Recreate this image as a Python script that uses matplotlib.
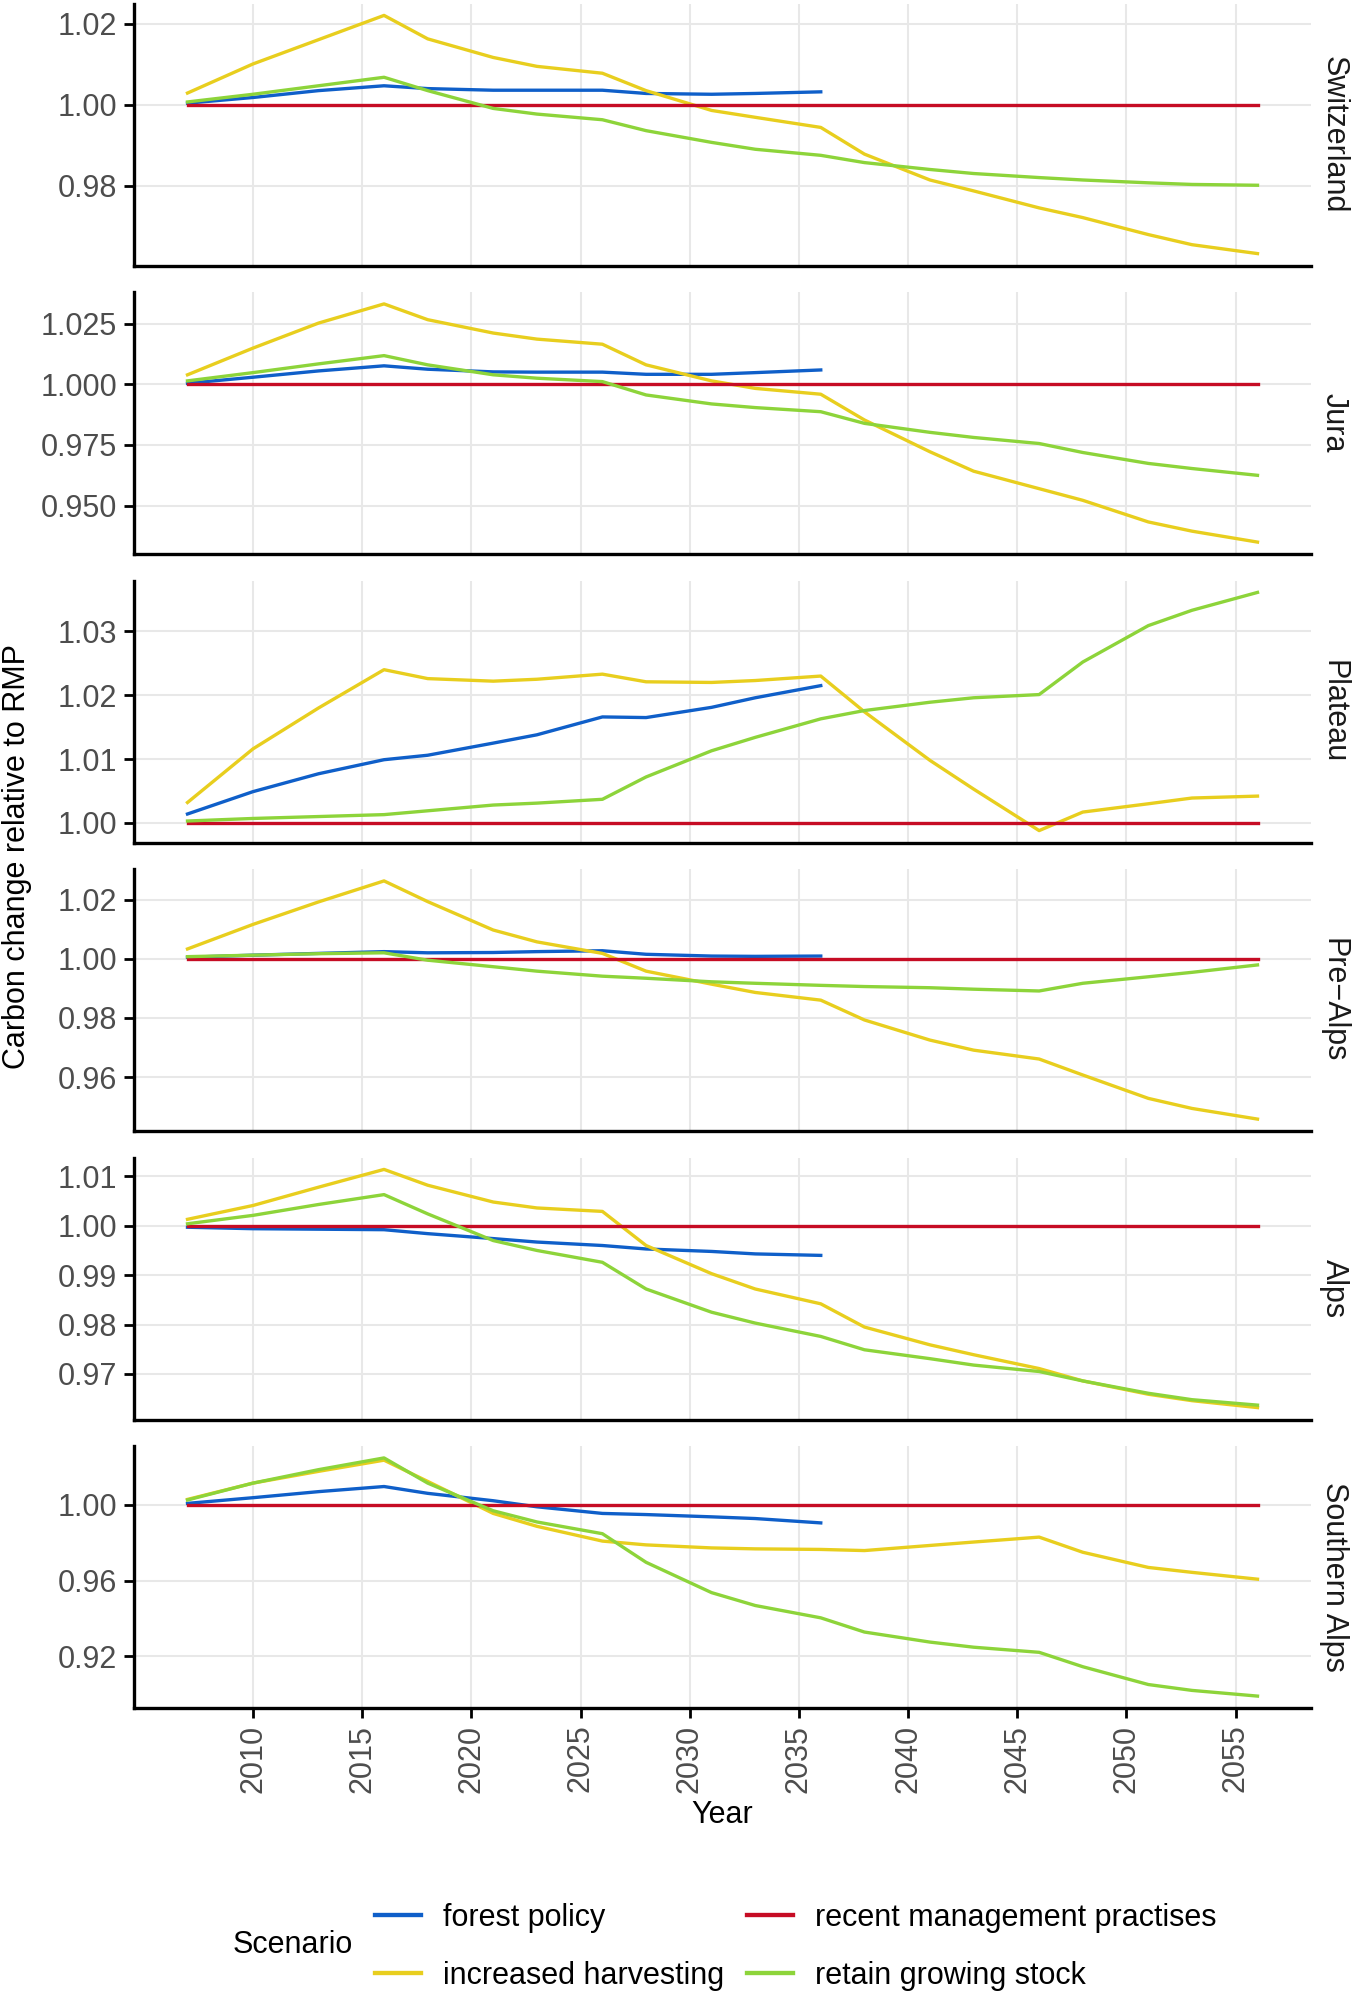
import matplotlib
matplotlib.use("Agg")
import matplotlib.pyplot as plt
from matplotlib.lines import Line2D

plt.rcParams['font.family'] = ['Liberation Sans', 'DejaVu Sans']

# simulation years (sampled off the chart), forest policy runs only to 2036
years = [2007, 2010, 2013, 2016, 2018, 2021, 2023, 2026, 2028, 2031,
         2033, 2036, 2038, 2041, 2043, 2046, 2048, 2051, 2053, 2056]
policy_years = years[:12]

regions = ["Switzerland", "Jura", "Plateau", "Pre\u2212Alps", "Alps", "Southern Alps"]

forest_policy = {
    "Switzerland": [1.0004, 1.0018, 1.0035, 1.0047, 1.0040, 1.0036, 1.0036, 1.0036, 1.0028, 1.0026, 1.0028, 1.0032],
    "Jura": [1.0004, 1.0029, 1.0055, 1.0076, 1.0062, 1.0051, 1.0050, 1.0050, 1.0041, 1.0041, 1.0048, 1.0059],
    "Plateau": [1.0014, 1.0049, 1.0077, 1.0099, 1.0106, 1.0125, 1.0138, 1.0166, 1.0165, 1.0181, 1.0196, 1.0215],
    "Pre\u2212Alps": [1.0005, 1.0012, 1.0018, 1.0024, 1.0020, 1.0021, 1.0024, 1.0027, 1.0015, 1.0009, 1.0008, 1.0009],
    "Alps": [0.9997, 0.9994, 0.9993, 0.9992, 0.9984, 0.9974, 0.9967, 0.9960, 0.9953, 0.9948, 0.9943, 0.9940],
    "Southern Alps": [1.0007, 1.0037, 1.0069, 1.0096, 1.0060, 1.0021, 0.9989, 0.9954, 0.9948, 0.9936, 0.9927, 0.9904],
}

increased_harvesting = {
    "Switzerland": [1.0029, 1.0101, 1.0161, 1.0221, 1.0163, 1.0117, 1.0095, 1.0078, 1.0035, 0.9986,
                    0.9969, 0.9944, 0.9878, 0.9814, 0.9787, 0.9745, 0.9721, 0.9679, 0.9654, 0.9632],
    "Jura": [1.0039, 1.0149, 1.0252, 1.0331, 1.0266, 1.0211, 1.0186, 1.0165, 1.0080, 1.0014,
             0.9983, 0.9959, 0.9853, 0.9722, 0.9642, 0.9570, 0.9522, 0.9433, 0.9395, 0.9350],
    "Plateau": [1.0032, 1.0116, 1.0180, 1.0240, 1.0226, 1.0222, 1.0225, 1.0233, 1.0221, 1.0220,
                1.0223, 1.0230, 1.0174, 1.0098, 1.0053, 0.9988, 1.0017, 1.0030, 1.0039, 1.0042],
    "Pre\u2212Alps": [1.0033, 1.0116, 1.0192, 1.0263, 1.0193, 1.0097, 1.0057, 1.0018, 0.9958, 0.9914,
                 0.9886, 0.9860, 0.9793, 0.9725, 0.9691, 0.9661, 0.9607, 0.9528, 0.9494, 0.9458],
    "Alps": [1.0013, 1.0041, 1.0078, 1.0114, 1.0082, 1.0048, 1.0036, 1.0029, 0.9960, 0.9903,
             0.9872, 0.9842, 0.9795, 0.9759, 0.9739, 0.9711, 0.9686, 0.9659, 0.9646, 0.9632],
    "Southern Alps": [1.0028, 1.0114, 1.0176, 1.0235, 1.0123, 0.9954, 0.9886, 0.9808, 0.9788, 0.9772,
                      0.9767, 0.9764, 0.9758, 0.9785, 0.9803, 0.9829, 0.9749, 0.9669, 0.9643, 0.9607],
}

recent_management = [1.0] * len(years)  # the reference scenario (ratio = 1)

retain_stock = {
    "Switzerland": [1.0007, 1.0026, 1.0047, 1.0068, 1.0035, 0.9991, 0.9977, 0.9963, 0.9936, 0.9907,
                    0.9890, 0.9875, 0.9857, 0.9840, 0.9830, 0.9820, 0.9814, 0.9807, 0.9803, 0.9801],
    "Jura": [1.0014, 1.0048, 1.0084, 1.0118, 1.0080, 1.0039, 1.0025, 1.0011, 0.9956, 0.9919,
             0.9904, 0.9887, 0.9839, 0.9802, 0.9781, 0.9756, 0.9719, 0.9674, 0.9653, 0.9625],
    "Plateau": [1.0003, 1.0007, 1.0010, 1.0013, 1.0019, 1.0028, 1.0031, 1.0037, 1.0072, 1.0113,
                1.0134, 1.0163, 1.0176, 1.0189, 1.0196, 1.0201, 1.0252, 1.0309, 1.0333, 1.0361],
    "Pre\u2212Alps": [1.0007, 1.0012, 1.0017, 1.0020, 0.9995, 0.9973, 0.9958, 0.9941, 0.9934, 0.9922,
                 0.9917, 0.9910, 0.9906, 0.9902, 0.9897, 0.9891, 0.9917, 0.9939, 0.9954, 0.9979],
    "Alps": [1.0004, 1.0021, 1.0043, 1.0063, 1.0024, 0.9970, 0.9950, 0.9926, 0.9872, 0.9825,
             0.9803, 0.9776, 0.9749, 0.9731, 0.9718, 0.9705, 0.9686, 0.9661, 0.9648, 0.9637],
    "Southern Alps": [1.0025, 1.0114, 1.0185, 1.0247, 1.0114, 0.9968, 0.9909, 0.9847, 0.9696, 0.9536,
                      0.9468, 0.9403, 0.9328, 0.9275, 0.9248, 0.9221, 0.9145, 0.9051, 0.9020, 0.8990],
}

y_ticks = {
    "Switzerland": ([0.98, 1.00, 1.02], "{:.2f}"),
    "Jura": ([0.950, 0.975, 1.000, 1.025], "{:.3f}"),
    "Plateau": ([1.00, 1.01, 1.02, 1.03], "{:.2f}"),
    "Pre\u2212Alps": ([0.96, 0.98, 1.00, 1.02], "{:.2f}"),
    "Alps": ([0.97, 0.98, 0.99, 1.00, 1.01], "{:.2f}"),
    "Southern Alps": ([0.92, 0.96, 1.00], "{:.2f}"),
}
x_ticks = [2010, 2015, 2020, 2025, 2030, 2035, 2040, 2045, 2050, 2055]

scenario_labels = ["forest policy", "increased harvesting",
                   "recent management practises", "retain growing stock"]
colors = {"forest policy": "#0F5FC9", "increased harvesting": "#E8CE1E",
          "recent management practises": "#C60C24", "retain growing stock": "#8DD43A"}

W, H = 1355, 1996
fig = plt.figure(figsize=(W / 100, H / 100), dpi=100)

left, right = 134, 1311
top0, pitch, ph = 3.5, 288.5, 262
lw = 2.4

for i, reg in enumerate(regions):
    y0 = top0 + i * pitch
    ax = fig.add_axes([left / W, 1 - (y0 + ph) / H, (right - left) / W, ph / H])

    ax.plot(policy_years, forest_policy[reg], color=colors["forest policy"], lw=lw)
    ax.plot(years, increased_harvesting[reg], color=colors["increased harvesting"], lw=lw)
    ax.plot(years, recent_management, color=colors["recent management practises"], lw=lw)
    ax.plot(years, retain_stock[reg], color=colors["retain growing stock"], lw=lw)

    ax.set_xlim(2007 - 2.45, 2056 + 2.45)
    ticks, fmt = y_ticks[reg]
    ax.set_yticks(ticks)
    ax.set_yticklabels([fmt.format(t) for t in ticks])
    ax.set_xticks(x_ticks)

    ax.grid(True, color="#E8E8E8", lw=1.5)
    ax.set_axisbelow(True)
    for s in ["top", "right"]:
        ax.spines[s].set_visible(False)
    for s in ["left", "bottom"]:
        ax.spines[s].set_linewidth(2.4)
        ax.spines[s].set_color("black")

    ax.tick_params(axis="both", length=7, width=2, color="black",
                   labelsize=22, labelcolor="#4D4D4D", pad=5)
    if i < len(regions) - 1:
        ax.tick_params(axis="x", bottom=False, labelbottom=False)
    else:
        ax.set_xticklabels([str(t) for t in x_ticks], rotation=90)

    ax.text(1.0195, 0.5, reg, transform=ax.transAxes, rotation=270,
            ha="center", va="center", fontsize=22, color="#1A1A1A")

fig.text(17 / W, 1 - 857 / H, "Carbon change relative to RMP", rotation=90,
         ha="center", va="center", fontsize=22)
fig.text(722 / W, 1 - 1815 / H, "Year", ha="center", va="center", fontsize=22)

fig.text(233 / W, 1 - 1945 / H, "Scenario", ha="left", va="center", fontsize=22)
handles = [Line2D([], [], color=colors[s], lw=lw * 1.3) for s in scenario_labels]
fig.legend(handles, scenario_labels, ncol=2, loc="upper left",
           bbox_to_anchor=(375 / W, 1 - 1903 / H), frameon=False, fontsize=22,
           handlelength=1.5, handletextpad=0.72, columnspacing=0.75,
           labelspacing=0.92, borderpad=0, borderaxespad=0)

fig.savefig("out.png", dpi=100)
